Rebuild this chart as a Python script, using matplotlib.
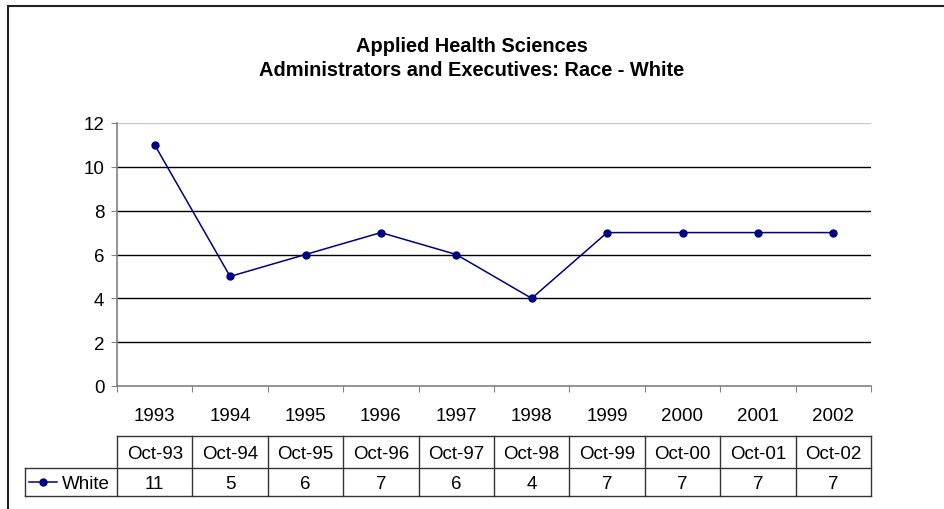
import matplotlib
matplotlib.use('Agg')
import matplotlib.pyplot as plt
from matplotlib.lines import Line2D
from matplotlib.patches import Rectangle
from matplotlib.transforms import blended_transform_factory

plt.rcParams['font.family'] = ['Liberation Sans', 'DejaVu Sans']

# data
years = ['1993', '1994', '1995', '1996', '1997', '1998', '1999', '2000', '2001', '2002']
dates = ['Oct-93', 'Oct-94', 'Oct-95', 'Oct-96', 'Oct-97', 'Oct-98', 'Oct-99', 'Oct-00', 'Oct-01', 'Oct-02']
white = [11, 5, 6, 7, 6, 4, 7, 7, 7, 7]
series_name = 'White'
yticks = [0, 2, 4, 6, 8, 10, 12]

navy = '#000080'
fs = 13.5
W, H = 944, 510
fig = plt.figure(figsize=(W / 100, H / 100), dpi=100)

# outer chart frame (runs off right/bottom like the screenshot)
fig.patches.append(Rectangle((8 / W, -0.1), 1.2, 0.1 + (1 - 7 / H), transform=fig.transFigure,
                             fill=False, edgecolor='#222222', lw=1.5))

fig.text(0.5, 1 - 46 / H, 'Applied Health Sciences', ha='center', va='center',
         fontsize=14.4, fontweight='bold')
fig.text(0.5, 1 - 71 / H, 'Administrators and Executives: Race - White', ha='center', va='center',
         fontsize=14.4, fontweight='bold')

left, right, top, bot = 117, 871, 124, 387
ax = fig.add_axes([left / W, 1 - bot / H, (right - left) / W, (bot - top) / H])
x = list(range(len(years)))
ax.plot(x, white, color=navy, lw=1.1, marker='o', markersize=5, markerfacecolor=navy,
        markeredgecolor=navy, clip_on=False, zorder=3)

ax.set_xlim(-0.5, len(years) - 0.5)
ax.set_ylim(0, 12)
ax.set_yticks(yticks)
for v in yticks[1:]:
    ax.axhline(v, color='#c8c8c8' if v == yticks[-1] else 'black', lw=1, zorder=1)

ax.set_xticks([i - 0.5 for i in range(len(years) + 1)])
ax.set_xticklabels([])
ax.set_xticks(x, minor=True)
ax.set_xticklabels(years, minor=True)
ax.tick_params(axis='x', which='major', direction='out', length=4, color='#808080')
ax.tick_params(axis='x', which='minor', length=0, pad=15, labelsize=fs)
ax.tick_params(axis='y', direction='out', length=4, color='#808080', pad=5, labelsize=fs)
for s in ['top', 'right']:
    ax.spines[s].set_visible(False)
for s in ['left', 'bottom']:
    ax.spines[s].set_color('#808080')
    ax.spines[s].set_linewidth(1.2)

# data table below the axis
tr = blended_transform_factory(ax.transData, fig.transFigure)
y_top, y_mid, y_bot = 1 - 437 / H, 1 - 469 / H, 1 - 497 / H
x0 = -0.5 - (left - 25) / ((right - left) / len(years))
xe = len(years) - 0.5
lk = dict(color='#333333', lw=1, transform=tr, clip_on=False)
fig.add_artist(Line2D([-0.5, xe], [y_top, y_top], **lk))
fig.add_artist(Line2D([x0, xe], [y_mid, y_mid], **lk))
fig.add_artist(Line2D([x0, xe], [y_bot, y_bot], **lk))
fig.add_artist(Line2D([x0, x0], [y_mid, y_bot], **lk))
for i in range(len(years) + 1):
    fig.add_artist(Line2D([i - 0.5, i - 0.5], [y_top, y_bot], **lk))
for i in x:
    fig.text(i, (y_top + y_mid) / 2, dates[i], transform=tr, ha='center', va='center_baseline', fontsize=fs)
    fig.text(i, (y_mid + y_bot) / 2, str(white[i]), transform=tr, ha='center', va='center_baseline', fontsize=fs)

# legend key inside the row label cell
ym = (y_mid + y_bot) / 2
fig.add_artist(Line2D([29 / W, 57 / W], [ym, ym], color=navy, lw=1.1, transform=fig.transFigure))
fig.add_artist(Line2D([43 / W], [ym], color=navy, marker='o', markersize=5, transform=fig.transFigure))
fig.text(62 / W, ym, series_name, ha='left', va='center_baseline', fontsize=fs)

fig.savefig('out.png', dpi=100)
